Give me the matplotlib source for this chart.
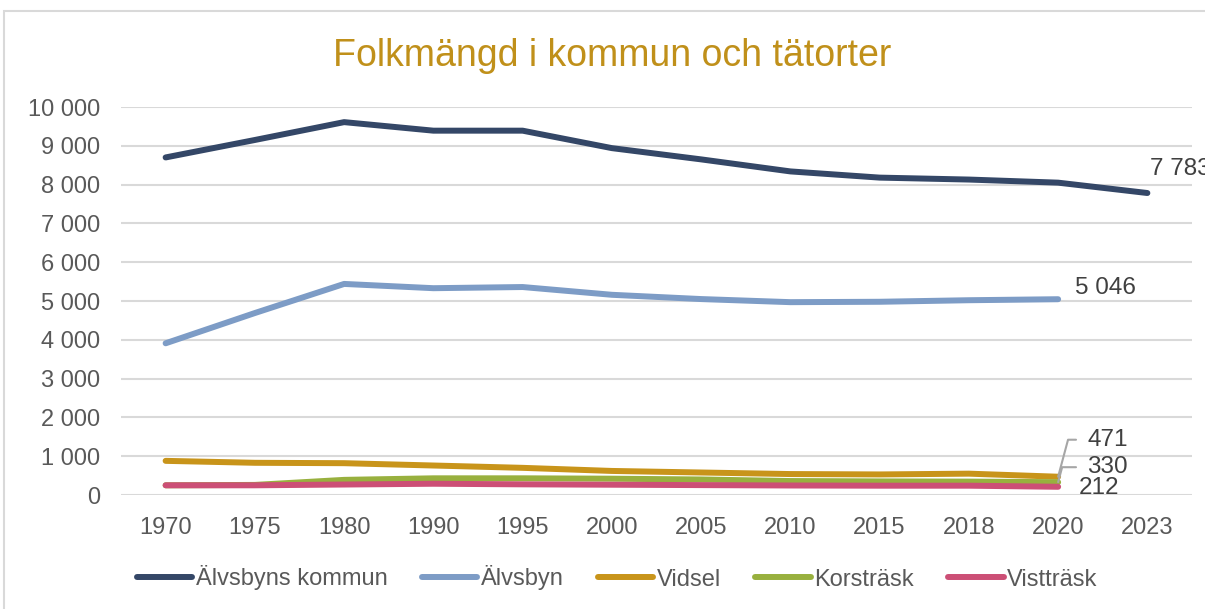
import matplotlib.pyplot as plt
import numpy as np
from matplotlib.patches import Rectangle
from matplotlib.ticker import FuncFormatter

plt.rcParams['font.family'] = ['Liberation Sans', 'DejaVu Sans']

years = ["1970", "1975", "1980", "1990", "1995", "2000", "2005", "2010", "2015", "2018", "2020", "2023"]
kommun = [8700, 9150, 9610, 9390, 9390, 8940, 8650, 8340, 8180, 8130, 8050, 7783]
alvsbyn = [3910, 4690, 5440, 5330, 5360, 5160, 5050, 4970, 4980, 5020, 5046]
vidsel = [880, 830, 820, 760, 700, 620, 580, 540, 530, 550, 471]
korstrask = [250, 260, 390, 430, 430, 420, 400, 360, 350, 345, 330]
visttrask = [250, 250, 270, 290, 275, 265, 255, 245, 240, 240, 212]

names = ["Älvsbyns kommun", "Älvsbyn", "Vidsel", "Korsträsk", "Vistträsk"]
colors = ["#344767", "#7d9cc6", "#c8941a", "#98b03e", "#cc4f76"]
series = [kommun, alvsbyn, vidsel, korstrask, visttrask]

fig = plt.figure(figsize=(12.05, 6.09), dpi=100)
ax = fig.add_axes([121 / 1205, 1 - 495 / 609, (1192 - 121) / 1205, (495 - 107) / 609])

# chart border
fig.patches.append(Rectangle((4 / 1205, -0.05), 1.1, 1 - 11 / 609 + 0.05, transform=fig.transFigure,
                             fill=False, edgecolor="#d9d9d9", linewidth=1.5))

for vals, name, c in zip(series, names, colors):
    x = np.arange(len(vals))
    ax.plot(x, vals, color=c, linewidth=4.3, solid_capstyle='round', label=name)

ax.set_xlim(-0.5, len(years) - 0.5)
ax.set_ylim(0, 10000)
ax.set_xticks(np.arange(len(years)))
ax.set_xticklabels(years)
ax.set_yticks(np.arange(0, 10001, 1000))
ax.yaxis.set_major_formatter(FuncFormatter(lambda v, p: f"{int(v):,}".replace(",", " ")))
ax.tick_params(length=0, labelsize=17, labelcolor="#595959")
ax.tick_params(axis='y', pad=15)
ax.tick_params(axis='x', pad=16)
ax.grid(axis='y', color="#d9d9d9", linewidth=1.5)
ax.set_axisbelow(True)
for s in ax.spines.values():
    s.set_visible(False)

lab = dict(fontsize=17.5, color="#404040", textcoords='offset pixels', va='center', ha='left',
           annotation_clip=False)
ax.annotate(f"{kommun[-1]:,}".replace(",", " "), (len(kommun) - 1, kommun[-1]), xytext=(3, 24), **lab)
ax.annotate(f"{alvsbyn[-1]:,}".replace(",", " "), (len(alvsbyn) - 1, alvsbyn[-1]), xytext=(17, 11), **lab)
leader = dict(arrowstyle='-', color="#a6a6a6", lw=1.5, shrinkA=6, shrinkB=0, relpos=(0, 0.5),
              connectionstyle='angle,angleA=0,angleB=75,rad=0')
ax.annotate(str(vidsel[-1]), (len(vidsel) - 1, vidsel[-1]), xytext=(29, 37), arrowprops=leader, **lab)
ax.annotate(str(korstrask[-1]), (len(korstrask) - 1, korstrask[-1]), xytext=(29, 15), arrowprops=leader, **lab)
ax.annotate(str(visttrask[-1]), (len(visttrask) - 1, visttrask[-1]), xytext=(21, -1), **lab)

fig.text(612 / 1205, 1 - 66 / 609, "Folkmängd i kommun och tätorter", fontsize=27, color="#c0901a",
         ha='center', va='baseline')

leg = fig.legend(loc='center', bbox_to_anchor=(617 / 1205, 1 - 578 / 609), ncol=5, frameon=False,
                 fontsize=17, handlelength=2.35, handletextpad=0.15, columnspacing=1.45,
                 labelcolor="#595959")

fig.savefig("out.png", dpi=100)
